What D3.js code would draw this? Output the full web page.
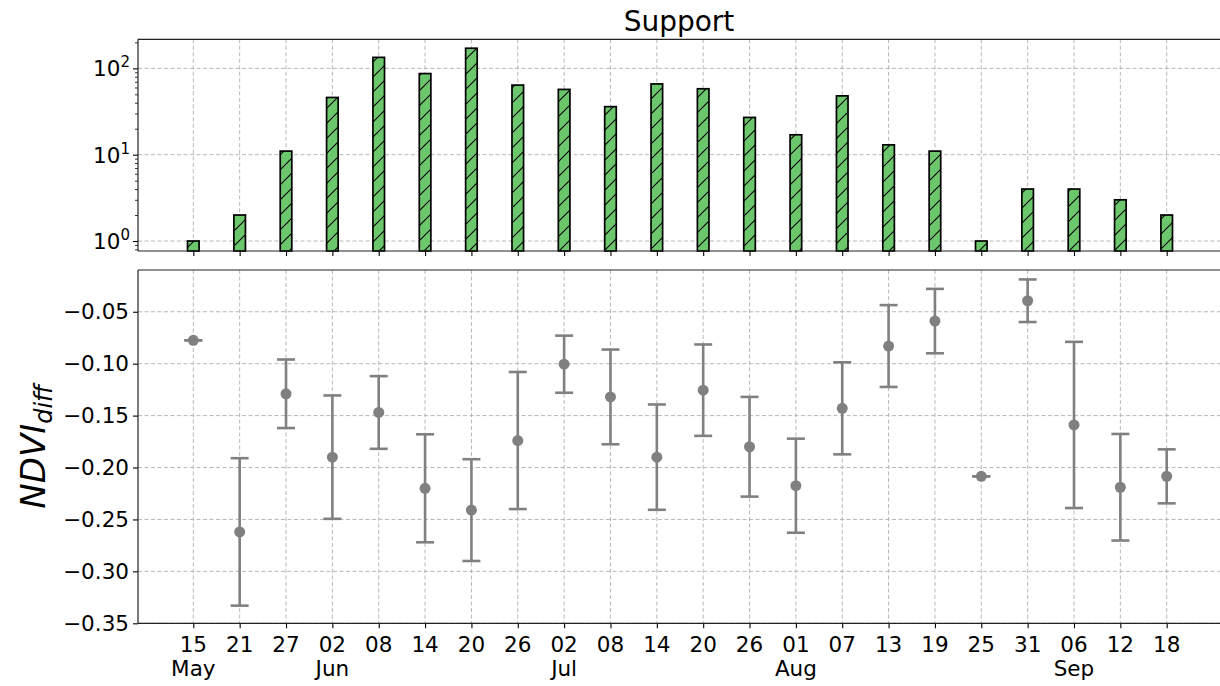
<!DOCTYPE html>
<html>
<head>
<meta charset="utf-8">
<script src="https://cdn.jsdelivr.net/npm/d3@7"></script>
<style>
  body { margin: 0; background: #fff; }
  svg { display: block; font-family: "DejaVu Sans", sans-serif; }
</style>
</head>
<body>
<svg id="chart" width="1220" height="686"></svg>
<script>
// ---------------- data ----------------
const dates = ["2020-05-15","2020-05-21","2020-05-27","2020-06-02","2020-06-08","2020-06-14",
  "2020-06-20","2020-06-26","2020-07-02","2020-07-08","2020-07-14","2020-07-20","2020-07-26",
  "2020-08-01","2020-08-07","2020-08-13","2020-08-19","2020-08-25","2020-08-31","2020-09-06",
  "2020-09-12","2020-09-18"];
const support = [1, 2, 11, 46, 134, 87, 171, 64, 57, 36, 66, 58, 27, 17, 48, 13, 11, 1, 4, 4, 3, 2];
const ndviMean = [-0.0775, -0.262, -0.129, -0.190, -0.147, -0.220, -0.241, -0.174, -0.1005, -0.132,
  -0.190, -0.1255, -0.180, -0.2175, -0.143, -0.083, -0.059, -0.2085, -0.0394, -0.159, -0.219, -0.2085];
const ndviErr = [0, 0.071, 0.033, 0.0594, 0.035, 0.052, 0.049, 0.066, 0.0275, 0.0456,
  0.0507, 0.044, 0.048, 0.0453, 0.0443, 0.0394, 0.031, 0, 0.0205, 0.080, 0.0513, 0.026];
const ndviTicks = [-0.35, -0.30, -0.25, -0.20, -0.15, -0.10, -0.05];
const supportMajorTicks = [1, 10, 100];
const supportMinorTicks = [0.8, 0.9, 2, 3, 4, 5, 6, 7, 8, 9, 20, 30, 40, 50, 60, 70, 80, 90, 200];
const titleText = "Support";

// ---------------- layout ----------------
const svg = d3.select("#chart");
const left = 138, right = 1220;
const top1 = 39.3, bot1 = 251;
const top2 = 270, bot2 = 623.3;
const DAY = 864e5;
const parse = d3.utcParse("%Y-%m-%d");
const dts = dates.map(parse);

const x = d3.scaleUtc()
  .domain([new Date(+dts[0] - 7.16 * DAY), new Date(+dts[dts.length - 1] + 6.9 * DAY)])
  .range([left, right]);

const yTop = d3.scaleLog().domain([0.766, 217]).range([bot1, top1]);
const yBot = d3.scaleLinear().domain([-0.35, -0.0098]).range([bot2, top2]);

const gridColor = "#b0b0b0";
const fontSize = 21.5;

// hatch pattern
const defs = svg.append("defs");
const pat = defs.append("pattern").attr("id", "hatch")
  .attr("patternUnits", "userSpaceOnUse").attr("width", 15).attr("height", 15);
pat.append("rect").attr("width", 15).attr("height", 15).attr("fill", "#6cc66c");
pat.append("path").attr("d", "M0,15 L15,0 M-3,3 L3,-3 M12,18 L18,12")
  .attr("stroke", "#000").attr("stroke-width", 1.1);

// ---------------- top panel ----------------
const g1 = svg.append("g");
g1.selectAll("line.vg").data(dts).join("line")
  .attr("x1", d => x(d)).attr("x2", d => x(d)).attr("y1", top1).attr("y2", bot1)
  .attr("stroke", gridColor).attr("stroke-width", 0.9).attr("stroke-dasharray", "4,2.5");
g1.selectAll("line.hg").data(supportMajorTicks).join("line")
  .attr("x1", left).attr("x2", right).attr("y1", d => yTop(d)).attr("y2", d => yTop(d))
  .attr("stroke", gridColor).attr("stroke-width", 0.9).attr("stroke-dasharray", "4,2.5");

const barW = x(new Date(+dts[0] + 1.5 * DAY)) - x(dts[0]);
g1.selectAll("rect.bar").data(support.map((v, i) => ({ d: dts[i], v }))).join("rect")
  .attr("x", d => x(d.d) - barW / 2)
  .attr("width", barW)
  .attr("y", d => yTop(d.v))
  .attr("height", d => bot1 - yTop(d.v))
  .attr("fill", "url(#hatch)")
  .attr("stroke", "#000").attr("stroke-width", 1.7);

const axL1 = d3.axisLeft(yTop).tickValues(supportMajorTicks).tickSize(5).tickFormat("");
const gAy1 = g1.append("g").attr("transform", `translate(${left},0)`).call(axL1);
gAy1.select(".domain").remove();
gAy1.selectAll(".tick line").attr("stroke", "#000").attr("stroke-width", 1.1);
const axL1m = d3.axisLeft(yTop).tickValues(supportMinorTicks).tickSize(3).tickFormat("");
const gAy1m = g1.append("g").attr("transform", `translate(${left},0)`).call(axL1m);
gAy1m.select(".domain").remove();
gAy1m.selectAll(".tick line").attr("stroke", "#000").attr("stroke-width", 0.8);

const lbl1 = g1.selectAll("text.ylog").data(supportMajorTicks).join("text")
  .attr("x", left - 8).attr("y", d => yTop(d) + 8)
  .attr("text-anchor", "end").attr("font-size", fontSize).attr("fill", "#000");
lbl1.append("tspan").text("10");
lbl1.append("tspan").attr("dy", -9).attr("font-size", 15).text(d => Math.round(Math.log10(d)));

const axB1 = d3.axisBottom(x).tickValues(dts).tickSize(5).tickFormat("");
const gAx1 = g1.append("g").attr("transform", `translate(0,${bot1})`).call(axB1);
gAx1.select(".domain").remove();
gAx1.selectAll(".tick line").attr("stroke", "#000").attr("stroke-width", 1.1);

g1.append("line").attr("x1", left).attr("x2", right).attr("y1", top1).attr("y2", top1)
  .attr("stroke", "#222").attr("stroke-width", 1.2);
g1.append("line").attr("x1", left).attr("x2", right).attr("y1", bot1).attr("y2", bot1)
  .attr("stroke", "#222").attr("stroke-width", 1.2);
g1.append("line").attr("x1", left).attr("x2", left).attr("y1", top1).attr("y2", bot1)
  .attr("stroke", "#222").attr("stroke-width", 1.2);

svg.append("text").attr("x", (left + right) / 2).attr("y", 31)
  .attr("text-anchor", "middle").attr("font-size", 28).attr("fill", "#000").text(titleText);

// ---------------- bottom panel ----------------
const g2 = svg.append("g");
g2.selectAll("line.vg").data(dts).join("line")
  .attr("x1", d => x(d)).attr("x2", d => x(d)).attr("y1", top2).attr("y2", bot2)
  .attr("stroke", gridColor).attr("stroke-width", 0.9).attr("stroke-dasharray", "4,2.5");
g2.selectAll("line.hg").data(ndviTicks).join("line")
  .attr("x1", left).attr("x2", right).attr("y1", d => yBot(d)).attr("y2", d => yBot(d))
  .attr("stroke", gridColor).attr("stroke-width", 0.9).attr("stroke-dasharray", "4,2.5");

const errColor = "#808080";
const cap = 9;
const pts = ndviMean.map((m, i) => ({ d: dts[i], m, e: ndviErr[i] }));
const eg = g2.selectAll("g.err").data(pts).join("g");
eg.append("line")
  .attr("x1", d => x(d.d)).attr("x2", d => x(d.d))
  .attr("y1", d => yBot(d.m + d.e)).attr("y2", d => yBot(d.m - d.e))
  .attr("stroke", errColor).attr("stroke-width", 2.6);
eg.append("line")
  .attr("x1", d => x(d.d) - cap).attr("x2", d => x(d.d) + cap)
  .attr("y1", d => yBot(d.m + d.e)).attr("y2", d => yBot(d.m + d.e))
  .attr("stroke", errColor).attr("stroke-width", 2.6);
eg.append("line")
  .attr("x1", d => x(d.d) - cap).attr("x2", d => x(d.d) + cap)
  .attr("y1", d => yBot(d.m - d.e)).attr("y2", d => yBot(d.m - d.e))
  .attr("stroke", errColor).attr("stroke-width", 2.6);
eg.append("circle")
  .attr("cx", d => x(d.d)).attr("cy", d => yBot(d.m)).attr("r", 5.5)
  .attr("fill", errColor);

const fmtY = v => d3.format(".2f")(v).replace("-", "\u2212");
const axL2 = d3.axisLeft(yBot).tickValues(ndviTicks).tickSize(5).tickPadding(4).tickFormat(fmtY);
const gAy2 = g2.append("g").attr("transform", `translate(${left},0)`).call(axL2);
gAy2.select(".domain").remove();
gAy2.selectAll(".tick line").attr("stroke", "#000").attr("stroke-width", 1.1);
gAy2.selectAll(".tick text").attr("font-size", fontSize).attr("fill", "#000")
  .attr("font-family", "DejaVu Sans, sans-serif");

const axB2 = d3.axisBottom(x).tickValues(dts).tickSize(5).tickFormat("");
const gAx2 = g2.append("g").attr("transform", `translate(0,${bot2})`).call(axB2);
gAx2.select(".domain").remove();
gAx2.selectAll(".tick line").attr("stroke", "#000").attr("stroke-width", 1.1);

const fmtDay = d3.utcFormat("%d");
const fmtMon = d3.utcFormat("%b");
const firstOfMonth = dts.map((d, i) => i === 0 || d.getUTCMonth() !== dts[i - 1].getUTCMonth());
const xl = g2.selectAll("text.xl").data(dts).join("text")
  .attr("x", d => x(d)).attr("y", bot2 + 29)
  .attr("text-anchor", "middle").attr("font-size", fontSize).attr("fill", "#000");
xl.append("tspan").attr("x", d => x(d)).text(d => fmtDay(d));
xl.filter((d, i) => firstOfMonth[i]).append("tspan")
  .attr("x", d => x(d)).attr("dy", 24).text(d => fmtMon(d));

g2.append("line").attr("x1", left).attr("x2", right).attr("y1", top2).attr("y2", top2)
  .attr("stroke", "#222").attr("stroke-width", 1.2);
g2.append("line").attr("x1", left).attr("x2", right).attr("y1", bot2).attr("y2", bot2)
  .attr("stroke", "#222").attr("stroke-width", 1.2);
g2.append("line").attr("x1", left).attr("x2", left).attr("y1", top2).attr("y2", bot2)
  .attr("stroke", "#222").attr("stroke-width", 1.2);

const yl = svg.append("text")
  .attr("transform", `translate(45,${(top2 + bot2) / 2}) rotate(-90)`)
  .attr("text-anchor", "middle").attr("font-size", 34).attr("font-style", "italic").attr("fill", "#000");
yl.append("tspan").text("NDVI");
yl.append("tspan").attr("font-size", 24).attr("dy", 7).text("diff");
</script>
</body>
</html>
